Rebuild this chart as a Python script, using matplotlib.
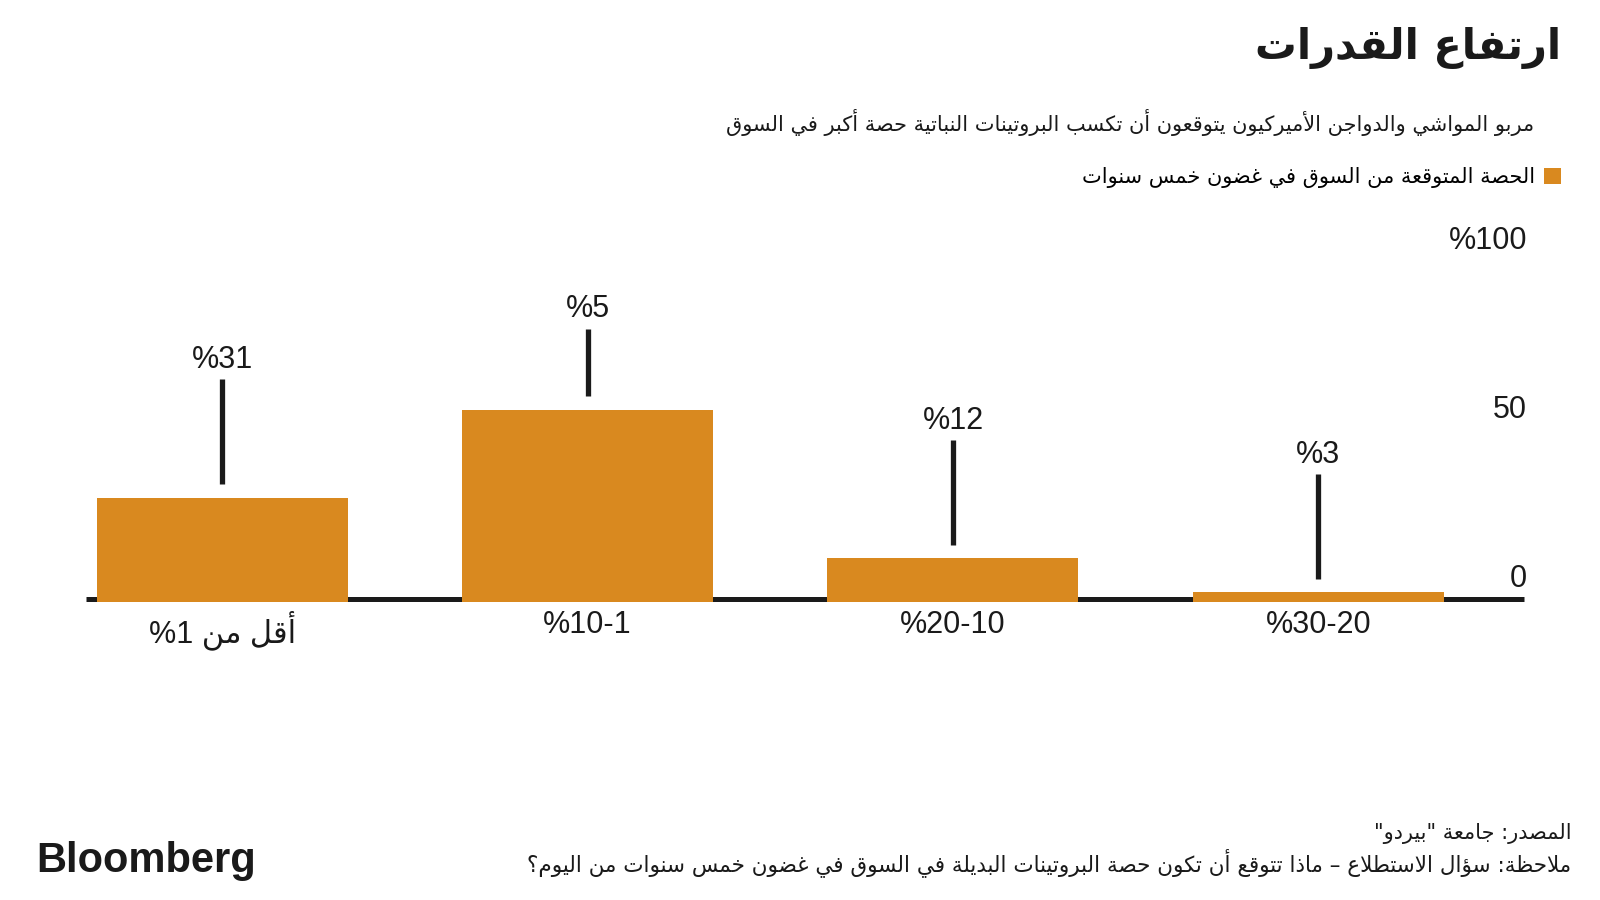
import re
import unicodedata
import matplotlib
matplotlib.use("Agg")
import matplotlib.pyplot as plt
import matplotlib.transforms as mtransforms

# البيانات
categories = ["أقل من %1", "%10-1", "%20-10", "%30-20"]
shares = [30, 56, 12, 2]
callouts = ["%31", "%5", "%12", "%3"]
y_ticks = [0, 50, 100]
y_tick_labels = ["0", "50", "%100"]

title = "ارتفاع القدرات"
subtitle = "مربو المواشي والدواجن الأميركيون يتوقعون أن تكسب البروتينات النباتية حصة أكبر في السوق"
legend_label = "الحصة المتوقعة من السوق في غضون خمس سنوات"
source = 'المصدر: جامعة "بيردو"'
note = ("ملاحظة: سؤال الاستطلاع – ماذا تتوقع أن تكون حصة البروتينات البديلة "
        "في السوق في غضون خمس سنوات من اليوم؟")

ORANGE = "#D9891F"
INK = "#1a1a1a"
AR_FONT = ["DejaVu Sans"]
NUM_FONT = ["Liberation Sans", "DejaVu Sans"]

# matplotlib لا يشكّل العربية: نحوّل إلى أشكال العرض ونعكس الترتيب
RIGHT_JOIN = set("اأإآدذرزوؤة")
ALEFS = set("اأإآ")
LTR = r"[0-9A-Za-z%.\-]"


def is_arabic(ch):
    return "\u0620" <= ch <= "\u064a"


def joins_forward(ch):
    return is_arabic(ch) and ch not in RIGHT_JOIN and ch != "ء"


def pres(name, form):
    try:
        return unicodedata.lookup(f"{name} {form} FORM")
    except KeyError:
        return None


def shape(text):
    out = []
    i = 0
    while i < len(text):
        ch = text[i]
        if not is_arabic(ch):
            out.append(ch)
            i += 1
            continue
        prev_j = i > 0 and joins_forward(text[i - 1])
        if ch == "ل" and i + 1 < len(text) and text[i + 1] in ALEFS:
            alef = unicodedata.name(text[i + 1]).replace("ARABIC LETTER ", "")
            form = "FINAL" if prev_j else "ISOLATED"
            out.append(unicodedata.lookup(f"ARABIC LIGATURE LAM WITH {alef} {form} FORM"))
            i += 2
            continue
        next_j = (i + 1 < len(text) and is_arabic(text[i + 1])
                  and text[i + 1] != "ء" and joins_forward(ch))
        form = {(True, True): "MEDIAL", (True, False): "FINAL",
                (False, True): "INITIAL", (False, False): "ISOLATED"}[(prev_j, next_j)]
        name = unicodedata.name(ch)
        out.append(pres(name, form) or pres(name, "FINAL" if prev_j else "ISOLATED") or ch)
        i += 1
    return "".join(out)


def ar(text):
    runs = re.findall(LTR + "+|[^0-9A-Za-z%.\\-]+", shape(text))
    vis = [r if re.match(LTR, r) else r[::-1] for r in reversed(runs)]
    return "".join(vis)


fig = plt.figure(figsize=(16, 9), dpi=100)
ax = fig.add_axes([0.05375, 0.3344, 0.899, 0.3756])

x = list(range(len(categories)))
# الأعمدة تغطي خط القاعدة بالكامل
bars = ax.bar(x, [v + 0.75 for v in shares], width=0.687, bottom=-0.75,
              color=ORANGE, zorder=3, clip_on=False)
ax.axhline(0, color=INK, lw=3.6, zorder=2, clip_on=False, solid_capstyle="butt")

# خطوط وتسميات فوق الأعمدة
for xi, v, lab in zip(x, shares, callouts):
    top = min(v + 35, 80)
    ax.plot([xi, xi], [v + 4, top], color=INK, lw=3.8, solid_capstyle="butt", zorder=3)
    ax.text(xi, top + 3.3, lab, ha="center", va="baseline", fontsize=22,
            family=NUM_FONT, color=INK)

trans = mtransforms.blended_transform_factory(ax.transAxes, ax.transData)
for v, lab in zip(y_ticks, y_tick_labels):
    ax.text(1.002, v + 3.5, lab, transform=trans, ha="right", va="baseline",
            fontsize=22, family=NUM_FONT, color=INK)

ax.set_xlim(-0.373, 3.564)
ax.set_ylim(0, 100)
ax.set_xticks(x)
ax.set_xticklabels([ar(c) for c in categories], fontsize=22, family=NUM_FONT, color=INK)
ax.tick_params(axis="x", length=0, pad=8)
ax.set_yticks([])
for s in ax.spines.values():
    s.set_visible(False)

fig.text(0.9756, 0.947, ar(title), ha="right", va="center", fontsize=30,
         fontweight="bold", family=AR_FONT, color=INK)
fig.text(0.959, 0.8644, ar(subtitle), ha="right", va="center", fontsize=15,
         family=AR_FONT, color=INK)

fig.legend([bars], [ar(legend_label)], loc="upper right",
           bbox_to_anchor=(0.9756, 1 - 167 / 900), markerfirst=False, frameon=False,
           handlelength=0.8, handleheight=0.8, handletextpad=0.45,
           borderaxespad=0, borderpad=0, prop={"family": AR_FONT, "size": 15})

fig.text(0.0225, 0.0311, "Bloomberg", ha="left", va="baseline", fontsize=30,
         fontweight="bold", family=["Liberation Sans"], color=INK)
fig.text(0.982, 1 - 834 / 900, ar(source), ha="right", va="center", fontsize=15,
         family=AR_FONT, color=INK)
fig.text(0.982, 1 - 863 / 900, ar(note), ha="right", va="center", fontsize=15.5,
         family=AR_FONT, color=INK)

fig.savefig("out.png", dpi=100, facecolor="white")
